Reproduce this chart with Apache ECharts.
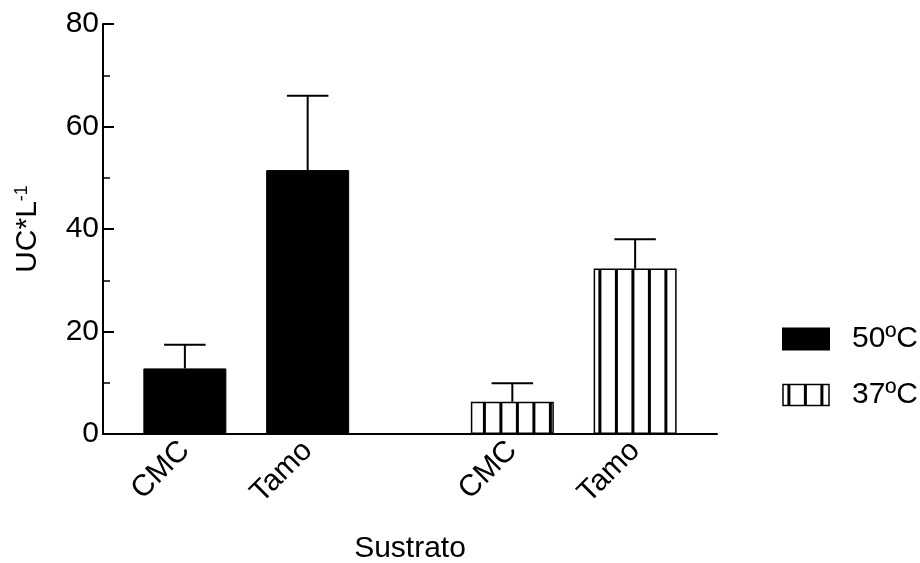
<!DOCTYPE html>
<html>
<head>
<meta charset="utf-8">
<script src="https://cdn.jsdelivr.net/npm/echarts@6/dist/echarts.min.js"></script>
<style>html,body{margin:0;padding:0;background:#fff;}#main{width:920px;height:563px;}</style>
</head>
<body>
<div id="main"></div>
<script>
// ---- data ----
const categories = ['CMC', 'Tamo'];
const seriesNames = ['50ºC', '37ºC'];
const values50 = [12.8, 51.5];
const errors50 = [4.6, 14.5];
const values37 = [6.3, 32.3];
const errors37 = [3.6, 5.7];
const positions50 = [4, 10];
const positions37 = [20, 26];
const yTicks = [0, 20, 40, 60, 80];
const xAxisTitle = 'Sustrato';

// ---- styling ----
const FONT = 'Liberation Sans, Arial, Helvetica, sans-serif';
const FS = 30;
const BAR_W = 83;

// stripe pattern (global, anchored at canvas origin)
const pc = document.createElement('canvas');
pc.width = 33; pc.height = 8;
const g = pc.getContext('2d');
g.fillStyle = '#fff'; g.fillRect(0, 0, 33, 8);
g.fillStyle = '#000';
g.fillRect(4.4, 0, 3, 8);
g.fillRect(20.9, 0, 3, 8);
const stripe = { image: pc, repeat: 'repeat' };

const catByPos = {};
positions50.forEach((p, i) => catByPos[p] = categories[i]);
positions37.forEach((p, i) => catByPos[p] = categories[i]);

const bars50 = positions50.map((p, i) => [p, values50[i]]);
const bars37 = positions37.map((p, i) => [p, values37[i]]);
const errData = positions50.map((p, i) => [p, values50[i], values50[i] + errors50[i]])
  .concat(positions37.map((p, i) => [p, values37[i], values37[i] + errors37[i]]));

const chart = echarts.init(document.getElementById('main'), null, { renderer: 'canvas' });
chart.setOption({
  animation: false,
  backgroundColor: '#fff',
  textStyle: { fontFamily: FONT, color: '#000' },
  grid: { left: 103, right: 203, top: 24, bottom: 129, containLabel: false, outerBoundsMode: 'none' },
  legend: {
    orient: 'vertical',
    left: 782, top: 324, padding: 0,
    itemWidth: 46, itemHeight: 21, itemGap: 26,
    icon: 'rect',
    textStyle: { fontFamily: FONT, fontSize: FS, color: '#000', padding: [0, 0, 0, 18] },
    data: [
      { name: seriesNames[0] },
      { name: seriesNames[1], itemStyle: { color: stripe, borderColor: '#000', borderWidth: 1.5 } }
    ]
  },
  xAxis: {
    type: 'value', min: 0, max: 30,
    splitLine: { show: false },
    axisLine: { show: true, lineStyle: { color: '#000', width: 2 } },
    axisTick: { show: false },
    axisLabel: {
      customValues: positions50.concat(positions37),
      formatter: v => catByPos[v] || '',
      rotate: 45, margin: 12,
      fontSize: FS, fontFamily: FONT, color: '#000'
    },
    name: xAxisTitle, nameLocation: 'middle', nameGap: 100,
    nameTextStyle: { fontSize: FS, fontFamily: FONT, color: '#000' }
  },
  yAxis: {
    type: 'value', min: yTicks[0], max: yTicks[yTicks.length - 1], interval: 20,
    splitLine: { show: false },
    axisLine: { show: true, lineStyle: { color: '#000', width: 2 } },
    axisTick: { show: true, inside: true, length: 11, lineStyle: { color: '#000', width: 2 } },
    minorTick: { show: true, splitNumber: 2, length: 7, lineStyle: { color: '#000', width: 1.5 } },
    axisLabel: { fontSize: FS, fontFamily: FONT, color: '#000', margin: 4 },
    name: 'UC*L{sup|-1}', nameLocation: 'middle', nameGap: 60, nameRotate: 90,
    nameTextStyle: {
      fontSize: FS, fontFamily: FONT, color: '#000',
      rich: { sup: { fontSize: 18, fontFamily: FONT, color: '#000', verticalAlign: 'top', padding: [0, 0, 12, 0] } }
    }
  },
  series: [
    {
      name: seriesNames[0], type: 'bar', data: bars50, barWidth: BAR_W, barGap: '-100%',
      itemStyle: { color: '#000', borderColor: '#000', borderWidth: 1 }, z: 2
    },
    {
      name: seriesNames[1], type: 'bar', data: bars37, barWidth: BAR_W, barGap: '-100%',
      itemStyle: { color: stripe, borderColor: '#000', borderWidth: 1.5 }, z: 2
    },
    {
      type: 'custom', z: 3, silent: true,
      data: errData,
      renderItem: function (params, api) {
        const x = api.value(0), v = api.value(1), e = api.value(2);
        const b = api.coord([x, v]);
        const t = api.coord([x, e]);
        const half = BAR_W / 4;
        const st = { stroke: '#000', lineWidth: 2 };
        return {
          type: 'group',
          children: [
            { type: 'line', shape: { x1: b[0], y1: b[1], x2: t[0], y2: t[1] }, style: st },
            { type: 'line', shape: { x1: t[0] - half, y1: t[1], x2: t[0] + half, y2: t[1] }, style: st }
          ]
        };
      }
    }
  ]
});
</script>
</body>
</html>
